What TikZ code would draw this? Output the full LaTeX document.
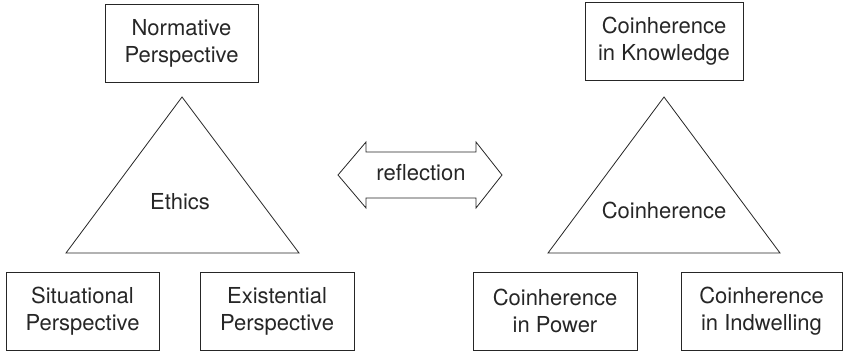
\documentclass[tikz,border=0pt]{standalone}
\usepackage{fontspec}
\setmainfont{TeX Gyre Heros}
\begin{document}
\begin{tikzpicture}[x=1pt,y=-1pt,
  every node/.style={font=\fontsize{22}{27}\selectfont, text=black!85},
  labelbox/.style={draw=black!85, line width=0.9pt, align=center, inner sep=0pt},
  shapeline/.style={draw=black!85, line width=0.8pt, line join=miter}]
\useasboundingbox (0,0) rectangle (843,353);
% left side
\node[labelbox, minimum width=153pt, minimum height=78pt] (norm) at (181.5,43) {Normative\\Perspective};
\node[labelbox, minimum width=153pt, minimum height=78pt] (sit) at (82.5,311) {Situational\\Perspective};
\node[labelbox, minimum width=154pt, minimum height=78pt] (exi) at (277,311) {Existential\\Perspective};
\coordinate (eA) at (182,97);
\coordinate (eB) at (66,253);
\coordinate (eC) at (299,253);
\draw[shapeline] (eA) -- (eB) -- (eC) -- cycle;
\node (ethics) at (180,202) {Ethics};
% arrow
\coordinate (a1) at (338,175);
\coordinate (a2) at (366,142);
\coordinate (a3) at (366,152);
\coordinate (a4) at (476,152);
\coordinate (a5) at (476,142);
\coordinate (a6) at (502,175);
\coordinate (a7) at (476,208);
\coordinate (a8) at (476,198);
\coordinate (a9) at (366,198);
\coordinate (a10) at (366,208);
\draw[shapeline] (a1) -- (a2) -- (a3) -- (a4) -- (a5) -- (a6) -- (a7) -- (a8) -- (a9) -- (a10) -- cycle;
\node (refl) at (421,173) {reflection};
% right side
\node[labelbox, minimum width=158pt, minimum height=78pt] (know) at (664,41) {Coinherence\\in Knowledge};
\node[labelbox, minimum width=164pt, minimum height=78pt] (pow) at (555,311) {Coinherence\\in Power};
\node[labelbox, minimum width=161pt, minimum height=78pt] (ind) at (761.5,311) {Coinherence\\in Indwelling};
\coordinate (cA) at (664,97);
\coordinate (cB) at (548,253);
\coordinate (cC) at (780,253);
\draw[shapeline] (cA) -- (cB) -- (cC) -- cycle;
\node (coin) at (664,210) {Coinherence};
\end{tikzpicture}
\end{document}
